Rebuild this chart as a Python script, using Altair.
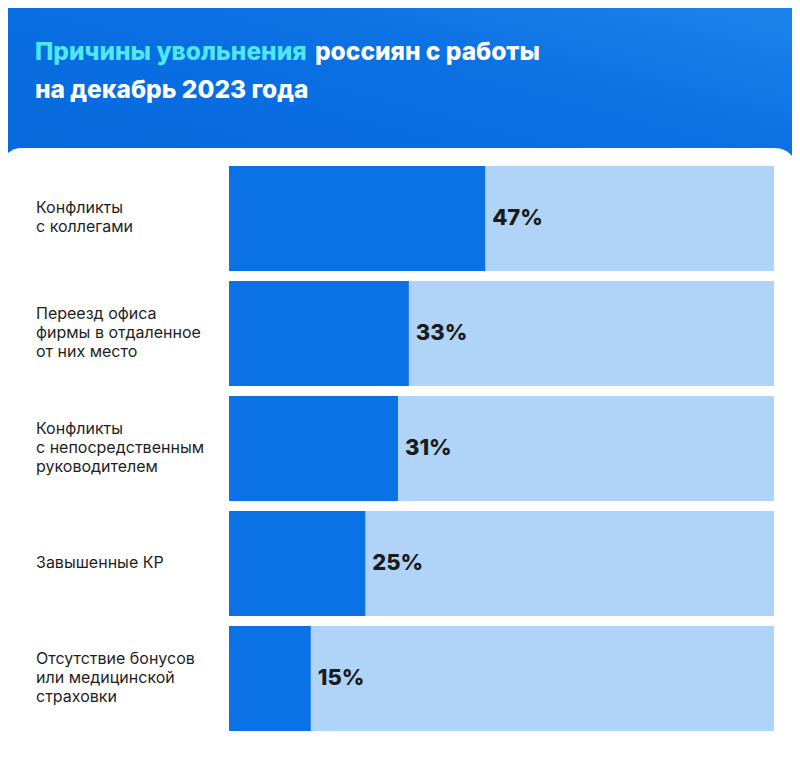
import altair as alt
import pandas as pd

labels = [
    "Конфликты\nс коллегами",
    "Переезд офиса\nфирмы в отдаленное\nот них место",
    "Конфликты\nс непосредственным\nруководителем",
    "Завышенные КР",
    "Отсутствие бонусов\nили медицинской\nстраховки",
]
values = [47, 33, 31, 25, 15]
full = [100, 100, 100, 100, 100]
title_accent = "Причины увольнения"
title_rest = "россиян с работы"
title_line2 = "на декабрь 2023 года"

df = pd.DataFrame({
    "label": labels,
    "value": values,
    "full": full,
    "pct": [f"{v}%" for v in values],
    "nlines": [s.count("\n") + 1 for s in labels],
})
one = pd.DataFrame({"a": [0]})

W, H = 784, 741
xscale = alt.Scale(domain=[0, 100], range=[221, 766])
yscale = alt.Scale(range=[158, 723], paddingInner=10 / 115, paddingOuter=0)

FONT = "Inter"
DARK = "#0a72e4"
LIGHT = "#b0d4f8"
LH = 19

grad = alt.LinearGradient(
    gradient="linear",
    stops=[alt.GradientStop(color="#0567db", offset=0),
           alt.GradientStop(color="#0a70e3", offset=0.6),
           alt.GradientStop(color="#1e84ec", offset=1)],
    x1=0, x2=1, y1=1, y2=0,
)

header = alt.Chart(one).mark_rect(color=grad).encode(
    x=alt.value(-8), x2=alt.value(W + 8), y=alt.value(-8), y2=alt.value(200)
)
panel = alt.Chart(one).mark_rect(color="white", cornerRadius=22).encode(
    x=alt.value(-8), x2=alt.value(789), y=alt.value(140), y2=alt.value(900)
)

ybase = alt.Y("label:N", scale=yscale, axis=None, sort=None)

bg = alt.Chart(df).mark_bar(color=LIGHT).encode(
    y=ybase, x=alt.X("full:Q", scale=xscale, axis=None)
)
bars = alt.Chart(df).mark_bar(color=DARK).encode(
    y=ybase, x=alt.X("value:Q", scale=xscale, axis=None)
)
pct = alt.Chart(df).mark_text(
    align="left", baseline="middle", dx=7, dy=-1, font=FONT, fontSize=22,
    fontWeight=800, color="#1b1b1b"
).encode(y=ybase, x=alt.X("value:Q", scale=xscale, axis=None), text="pct:N")

cats = []
for n in (1, 2, 3):
    cats.append(
        alt.Chart(df).transform_filter(alt.datum.nlines == n).mark_text(
            align="left", baseline="middle", font=FONT, fontSize=16,
            lineHeight=LH, lineBreak="\n", color="#1e1e1e",
            dy=-(n - 1) * LH / 2 - 1,
        ).encode(y=ybase, x=alt.value(28), text="label:N")
    )

TS = 24.5
t1 = alt.Chart(one).mark_text(
    text=title_accent, align="left", baseline="middle", font=FONT,
    fontSize=TS, fontWeight=800, color="#4fe8f2"
).encode(x=alt.value(27), y=alt.value(45))
t2 = alt.Chart(one).mark_text(
    text=title_rest, align="left", baseline="middle", font=FONT,
    fontSize=TS, fontWeight=800, color="white"
).encode(x=alt.value(307), y=alt.value(45))
t3 = alt.Chart(one).mark_text(
    text=title_line2, align="left", baseline="middle", font=FONT,
    fontSize=TS, fontWeight=800, color="white"
).encode(x=alt.value(27), y=alt.value(83))

chart = alt.layer(header, panel, bg, bars, pct, *cats, t1, t2, t3).properties(
    width=W, height=H, autosize=alt.AutoSizeParams(type="none"), padding=0,
    background="white",
).configure_view(stroke=None)

chart.save("out.html", embed_options={"renderer": "svg", "actions": False})
